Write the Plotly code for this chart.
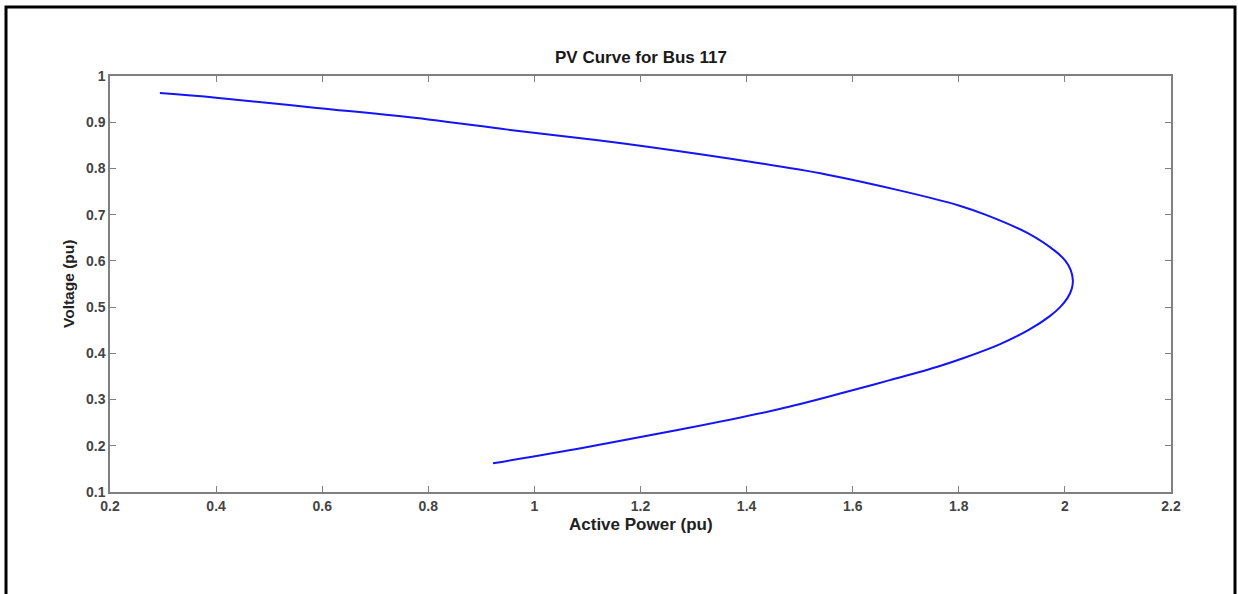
import plotly.graph_objects as go

# Data (PV curve, nose curve)
active_power = [0.294, 0.40, 0.59, 0.80, 0.95, 1.12, 1.22, 1.41, 1.55, 1.69, 1.80, 1.85, 1.93,
                1.983, 2.001, 2.011, 2.015, 2.013, 2.005, 1.991, 1.971, 1.931, 1.878, 1.812,
                1.76, 1.67, 1.58, 1.46, 1.27, 1.09, 0.922]
voltage = [0.963, 0.953, 0.931, 0.906, 0.884, 0.861, 0.846, 0.814, 0.787, 0.752, 0.72, 0.70, 0.66,
           0.62, 0.60, 0.58, 0.558, 0.54, 0.52, 0.50, 0.48, 0.45, 0.42, 0.391,
           0.371, 0.342, 0.314, 0.279, 0.234, 0.195, 0.162]

x_ticks = [0.2, 0.4, 0.6, 0.8, 1, 1.2, 1.4, 1.6, 1.8, 2, 2.2]
x_tick_text = ["0.2", "0.4", "0.6", "0.8", "1", "1.2", "1.4", "1.6", "1.8", "2", "2.2"]
y_ticks = [0.1, 0.2, 0.3, 0.4, 0.5, 0.6, 0.7, 0.8, 0.9, 1]
y_tick_text = ["0.1", "0.2", "0.3", "0.4", "0.5", "0.6", "0.7", "0.8", "0.9", "1"]

W, H = 1238, 594
L, R, T, B = 110, 1171, 76, 492

FONT = "Liberation Sans, Arial, sans-serif"

fig = go.Figure()
fig.add_trace(go.Scatter(x=active_power, y=voltage, mode="lines",
                         line=dict(color="#1414f5", width=2, shape="spline", smoothing=1.0),
                         showlegend=False, hoverinfo="x+y"))

axis_common = dict(showgrid=False, zeroline=False, showline=True, linecolor="#808080",
                   linewidth=1.5, mirror="allticks", ticks="inside", ticklen=6,
                   tickcolor="#808080", tickwidth=1,
                   tickfont=dict(family=FONT, size=14, color="#444444", weight="bold"))

fig.update_layout(
    width=W, height=H,
    margin=dict(l=L, r=W - R, t=T, b=H - B),
    paper_bgcolor="white", plot_bgcolor="white",
    xaxis=dict(range=[0.2, 2.2], tickvals=x_ticks, ticktext=x_tick_text, **axis_common),
    yaxis=dict(range=[0.1, 1.0], tickvals=y_ticks, ticktext=y_tick_text, **axis_common),
)

pw, ph = R - L, B - T
def px(xp):
    return (xp - L) / pw
def py(yp):
    return (B - yp) / ph

fig.add_annotation(text="<b>PV Curve for Bus 117</b>", xref="paper", yref="paper",
                   x=0.5, y=py(57), showarrow=False, xanchor="center", yanchor="middle",
                   font=dict(family=FONT, size=17, color="#1a1a1a"))
fig.add_annotation(text="<b>Active Power (pu)</b>", xref="paper", yref="paper",
                   x=0.5, y=py(524), showarrow=False, xanchor="center", yanchor="middle",
                   font=dict(family=FONT, size=17, color="#222222"))
fig.add_annotation(text="<b>Voltage (pu)</b>", xref="paper", yref="paper",
                   x=px(68), y=0.5, showarrow=False, xanchor="center", yanchor="middle",
                   textangle=-90, font=dict(family=FONT, size=15.5, color="#222222"))

# outer frame of the figure
fig.add_shape(type="rect", xref="paper", yref="paper",
              x0=px(6), x1=px(1235), y0=py(610), y1=py(7),
              line=dict(color="black", width=3), fillcolor="rgba(0,0,0,0)", layer="above")

fig.write_html("out.html")
